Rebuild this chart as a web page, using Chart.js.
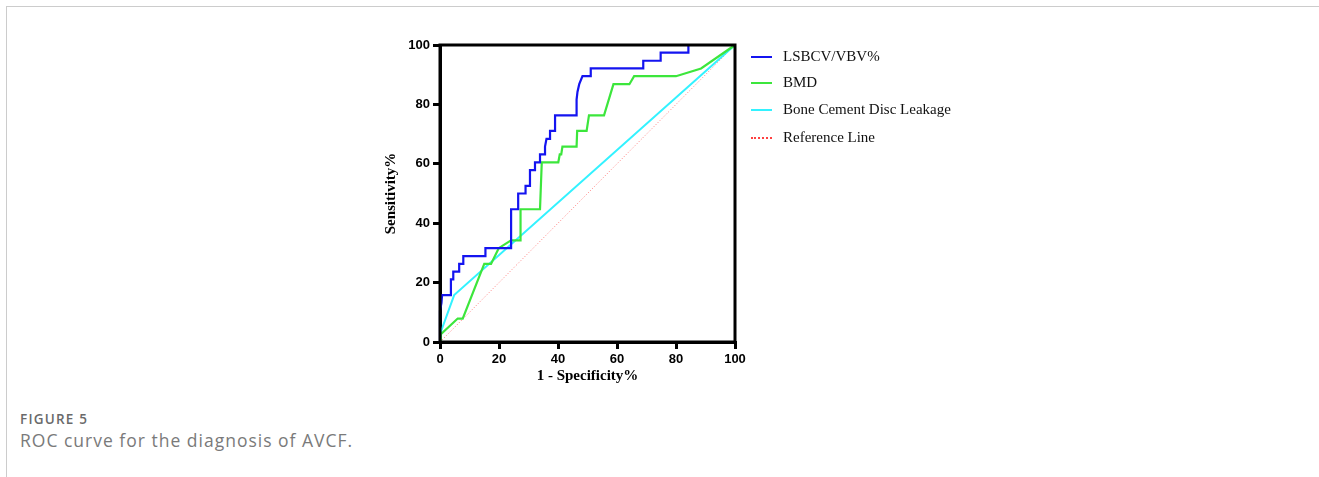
<!DOCTYPE html>
<html>
<head>
<meta charset="utf-8">
<script src="https://cdn.jsdelivr.net/npm/chart.js@4.4.1/dist/chart.umd.min.js"></script>
<style>
  body { margin: 0; background: #fff; width: 1319px; height: 477px; overflow: hidden; position: relative; }
  #frame { position: absolute; left: 6px; top: 6px; right: 0; bottom: -2px; border-left: 1px solid #ccc; border-top: 1px solid #ccc; }
  #wrap { position: absolute; left: 360px; top: 30px; width: 400px; height: 380px; }
  .leg { position: absolute; left: 751px; font: 15px "Liberation Serif", serif; color: #111; white-space: nowrap; }
  .leg span.s { position: absolute; left: 0; top: 8px; width: 21px; height: 0; }
  .leg span.t { position: absolute; left: 32px; top: 0; line-height: 17px; }
  #fig { position: absolute; left: 20px; top: 410px; font: 600 13.5px "Open Sans", sans-serif; color: #6a6a6a; letter-spacing: 1.2px; }
  #cap { position: absolute; left: 20px; top: 428px; font: 17.5px "Open Sans", sans-serif; color: #7a7a7a; letter-spacing: 1px; }
</style>
</head>
<body>
<div id="frame"></div>
<div id="wrap"><canvas id="roc"></canvas></div>
<div id="legend"></div>
<div id="fig">FIGURE 5</div>
<div id="cap">ROC curve for the diagnosis of AVCF.</div>
<script>
// series names + colours
const names = ["LSBCV/VBV%", "BMD", "Bone Cement Disc Leakage", "Reference  Line"];
const colors = ["#1414f0", "#3ce63c", "#33f2ff", "#ff4040"];

// 1 - specificity (x) and sensitivity (y)
const lsbcvX = [0, 0, 0.5, 0.7, 3.7, 3.7, 4.5, 4.5, 6.5, 6.5, 7.9, 7.9, 15.4, 15.4, 24.1, 24.1, 26.5, 26.5, 29, 29, 30.5, 30.5, 32.2, 32.2, 33.9, 33.9, 35.6, 35.6, 36.1, 37.3, 37.3, 39, 39, 46.3, 46.3, 46.6, 47.2, 48.3, 51.1, 51.1, 68.9, 68.9, 74.8, 74.8, 84.2, 84.2, 100];
const lsbcvY = [0, 10.5, 13.2, 15.8, 15.8, 21.1, 21.1, 23.7, 23.7, 26.3, 26.3, 28.9, 28.9, 31.6, 31.6, 44.7, 44.7, 50, 50, 52.6, 52.6, 57.9, 57.9, 60.5, 60.5, 63.2, 63.2, 65.8, 68.4, 68.4, 71.1, 71.1, 76.3, 76.3, 81.6, 84.2, 86.8, 89.5, 89.5, 92.1, 92.1, 94.7, 94.7, 97.4, 97.4, 100, 100];

const bmdX = [0, 0.3, 6, 7.7, 15, 17.3, 19.9, 24.1, 27.3, 27.3, 33.9, 34.5, 40.1, 40.6, 41.1, 41.5, 46.3, 46.5, 49.7, 50.5, 55.6, 58.8, 64.2, 65.8, 80, 88.5, 100];
const bmdY = [0, 2.6, 7.9, 7.9, 26.3, 26.3, 31.6, 34.2, 34.2, 44.7, 44.7, 60.5, 60.5, 63.2, 63.2, 65.8, 65.8, 71.1, 71.1, 76.3, 76.3, 86.8, 86.8, 89.5, 89.5, 92.1, 100];

const leakX = [0, 0, 4.8, 100];
const leakY = [0, 2.6, 15.8, 100];

const refX = [0, 100];
const refY = [0, 100];

const xTicks = [0, 20, 40, 60, 80, 100];
const yTicks = [0, 20, 40, 60, 80, 100];

function pts(xs, ys) {
  return xs.map((x, i) => ({ x: x, y: ys[i] }));
}

// legend (html)
const legend = document.getElementById("legend");
const legTops = [48, 74, 101, 129];
names.forEach((n, i) => {
  const d = document.createElement("div");
  d.className = "leg";
  d.style.top = legTops[i] + "px";
  const s = document.createElement("span");
  s.className = "s";
  s.style.borderTop = i == 3 ? "2px dotted " + colors[i] : "2px solid " + colors[i];
  const t = document.createElement("span");
  t.className = "t";
  t.textContent = n;
  d.appendChild(s);
  d.appendChild(t);
  legend.appendChild(d);
});

// box round the plot area
const boxPlugin = {
  id: "box",
  afterDatasetsDraw(chart) {
    const a = chart.chartArea;
    const ctx = chart.ctx;
    ctx.save();
    ctx.strokeStyle = "#000";
    ctx.lineWidth = 3;
    ctx.strokeRect(a.left, a.top, a.right - a.left, a.bottom - a.top);
    ctx.restore();
  }
};

const tickFont = { family: "Liberation Sans", size: 13, weight: "bold" };
const titleFont = { family: "Liberation Serif", size: 15, weight: "bold" };

new Chart(document.getElementById("roc"), {
  type: "scatter",
  data: {
    datasets: [
      { label: names[0], data: pts(lsbcvX, lsbcvY), borderColor: colors[0], borderWidth: 2.2 },
      { label: names[1], data: pts(bmdX, bmdY), borderColor: colors[1], borderWidth: 2.2 },
      { label: names[2], data: pts(leakX, leakY), borderColor: colors[2], borderWidth: 2 },
      { label: names[3], data: pts(refX, refY), borderColor: "#ff7a7a", borderWidth: 1, borderDash: [1, 2] }
    ].map(d => Object.assign(d, { showLine: true, pointRadius: 0, tension: 0, clip: false, fill: false }))
  },
  options: {
    responsive: true,
    maintainAspectRatio: false,
    animation: false,
    layout: { padding: { top: 15, right: 25, left: 0, bottom: 0 } },
    plugins: { legend: { display: false }, tooltip: { enabled: false } },
    scales: {
      x: {
        type: "linear",
        min: 0,
        max: 100,
        afterFit: s => { s.height = 68; s.paddingLeft = 0; s.paddingRight = 0; },
        afterBuildTicks: s => { s.ticks = xTicks.map(v => ({ value: v })); },
        ticks: { font: tickFont, color: "#000", padding: 3, maxRotation: 0 },
        grid: { drawOnChartArea: false, tickLength: 7, lineWidth: 3, color: "#000" },
        border: { width: 3, color: "#000" },
        title: { display: true, text: "1 - Specificity%", font: titleFont, color: "#000", padding: { top: 0, bottom: 25 } }
      },
      y: {
        type: "linear",
        min: 0,
        max: 100,
        afterFit: s => { s.width = 80; s.paddingTop = 0; s.paddingBottom = 0; },
        afterBuildTicks: s => { s.ticks = yTicks.map(v => ({ value: v })); },
        ticks: { font: tickFont, color: "#000", padding: 3 },
        grid: { drawOnChartArea: false, tickLength: 7, lineWidth: 3, color: "#000" },
        border: { width: 3, color: "#000" },
        title: { display: true, text: "Sensitivity%", font: titleFont, color: "#000", padding: { top: 22, bottom: 0 } }
      }
    }
  },
  plugins: [boxPlugin]
});
</script>
</body>
</html>
